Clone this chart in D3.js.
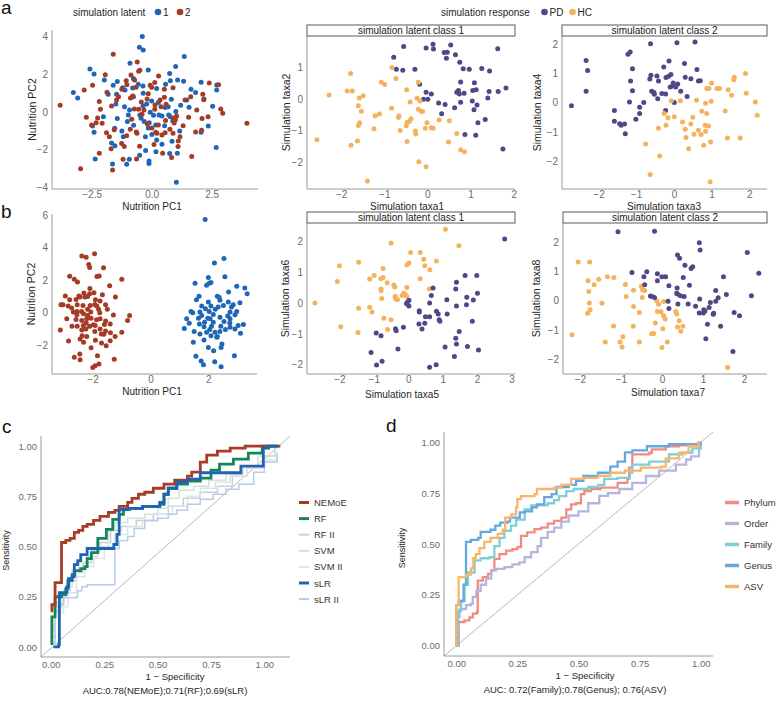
<!DOCTYPE html>
<html><head><meta charset="utf-8">
<script src="https://cdn.jsdelivr.net/npm/d3@7"></script>
<style>body{margin:0;background:#fff;} svg{font-family:"Liberation Sans",Arial,Helvetica,sans-serif;}</style>
</head><body><svg id="fig" width="777" height="701"></svg>
<script>
// ---------------- DATA ----------------
const latentLevels = ["1", "2"];
const responseLevels = ["PD", "HC"];
// panel a (left): Nutrition PC1 / PC2 by simulation latent
const a_latent1 = [[-0.39,4.0],[-0.51,3.43],[-0.35,3.29],[1.36,2.94],[-0.90,2.58],[1.0,2.41],[-2.57,2.28],[-0.14,2.23],[-2.40,2.02],[0.75,2.04],[-0.76,1.77],[1.08,1.70],[1.33,1.63],[-1.97,1.70],[-1.43,1.61],[0.58,1.47],[2.06,1.58],[2.71,1.43],[-0.56,1.47],[0.78,1.65],[-1.60,1.42],[-1.21,1.29],[-1.11,1.17],[-0.79,1.27],[-0.36,1.38],[0.21,1.24],[1.64,1.20],[1.83,1.03],[2.71,1.17],[-3.26,1.03],[-3.08,0.74],[-1.46,0.94],[-1.81,0.94],[0.82,0.67],[0.0,0.58],[-0.36,0.32],[0.28,0.50],[2.18,0.69],[-1.49,0.42],[-1.13,0.28],[-0.92,0.11],[0.57,0.23],[1.21,0.35],[1.56,0.25],[2.54,0.30],[1.01,0.02],[-0.97,-0.16],[-0.06,-0.02],[0.71,-0.16],[0.78,-0.25],[-0.44,-0.34],[-1.43,-0.35],[-0.31,-0.51],[-1.01,-0.51],[-0.75,-0.71],[-2.46,-0.74],[-0.10,-0.57],[0.17,-0.69],[0.54,-0.73],[0.88,-0.48],[0.43,-0.21],[-1.54,-0.87],[-1.24,-1.01],[-0.14,-0.85],[1.17,-1.01],[2.36,-0.74],[2.06,-1.08],[-2.40,-1.08],[-1.18,-1.31],[0.01,-1.20],[-0.26,-1.31],[0.85,-1.56],[-1.67,-1.65],[-1.53,-1.79],[0.43,-1.72],[2.69,-1.89],[0.18,-2.11],[-0.25,-2.05],[-0.50,-2.30],[0.75,-2.21],[1.07,-2.19],[-2.35,-2.50],[-0.93,-2.51],[-0.11,-2.60],[-0.11,-2.74],[-1.04,-2.78],[-1.63,-2.76],[1.03,-3.73],[-0.21,0.42],[0.08,-0.18],[-0.49,-0.16],[0.31,-0.16],[0.69,0.28],[-0.76,0.81],[1.46,0.64],[-2.01,-0.25],[-0.35,0.99],[0.21,-1.49]];
const a_latent2 = [[-1.60,3.06],[-0.60,2.65],[-0.49,2.21],[-0.54,2.16],[-1.93,1.98],[-0.86,1.96],[0.29,1.91],[-0.71,1.70],[-1.06,1.65],[0.13,1.56],[2.40,1.54],[2.79,1.45],[-2.46,1.42],[-1.03,1.45],[-1.24,1.20],[-0.65,1.31],[-0.06,1.42],[0.0,1.31],[0.53,1.20],[0.89,1.29],[2.13,0.94],[-2.81,1.17],[-1.86,1.04],[-1.38,0.81],[-0.79,0.85],[-0.88,0.74],[0.53,0.78],[-0.19,0.69],[1.63,0.81],[-2.18,0.55],[-1.67,0.32],[-0.54,0.14],[-0.43,0.53],[2.17,0.65],[0.14,0.37],[0.39,0.28],[0.60,0.41],[-0.72,0.16],[-0.32,0.11],[0.13,0.14],[2.88,0.16],[-3.81,0.35],[-2.13,0.14],[-2.72,-0.28],[-0.40,-0.12],[0.90,-0.34],[0.99,-0.42],[1.54,-0.28],[-2.25,-0.32],[2.96,-0.07],[2.35,-0.25],[2.10,-0.35],[-2.50,-0.69],[-2.31,-0.57],[-2.06,-0.60],[-0.18,-0.64],[0.01,-0.85],[0.28,-0.69],[0.58,-0.46],[0.94,-0.58],[1.04,-0.21],[3.97,-0.60],[-1.56,-0.94],[-0.89,-0.92],[-0.64,-1.06],[0.17,-1.08],[0.56,-1.10],[0.89,-1.13],[1.31,-0.73],[1.83,-1.06],[2.08,-0.97],[-1.88,-1.10],[-1.76,-1.31],[-1.04,-1.26],[-0.61,-1.13],[0.22,-1.13],[0.43,-1.22],[1.18,-1.31],[1.11,-1.54],[0.10,-1.73],[-1.25,-1.68],[-1.14,-1.84],[-0.50,-1.82],[0.46,-2.19],[-1.69,-1.95],[-2.18,-2.19],[1.10,-1.84],[-1.19,-2.51],[-0.63,-2.50],[0.83,-2.42],[1.67,-2.37],[-2.96,-3.01],[-1.63,-3.08],[-1.46,0.64],[-0.14,0.96],[0.76,-0.92],[-0.83,-0.39],[1.88,0.11],[1.39,0.64],[0.35,0.64]];
// panel a, latent class 1: taxa1 / taxa2
const a_c1_PD = [[-0.55,1.65],[-0.78,1.31],[-0.72,0.93],[-0.57,0.90],[-0.29,0.93],[-0.03,1.60],[0.13,1.72],[0.14,1.57],[0.39,1.46],[0.46,1.47],[0.44,1.28],[0.54,1.70],[0.65,1.39],[0.75,1.15],[0.83,0.95],[0.97,0.93],[1.26,0.96],[1.44,0.88],[1.63,1.58],[-0.18,0.46],[-0.03,0.21],[0.09,0.15],[-0.09,-0.01],[0.01,-0.01],[0.26,-0.13],[0.41,-0.18],[0.33,-0.47],[0.77,0.53],[0.72,0.26],[0.68,0.21],[0.74,0.15],[0.85,0.18],[0.63,-0.28],[0.77,-0.11],[1.09,0.51],[1.05,0.26],[1.13,0.29],[1.43,0.23],[1.40,0.03],[1.64,0.23],[1.82,0.34],[1.04,-0.07],[1.15,-0.19],[1.08,-0.34],[1.17,-0.75],[1.34,-0.65],[0.87,-1.12],[1.12,-1.15],[1.75,-1.58]];
const a_c1_HC = [[-1.78,0.80],[-0.82,0.99],[-0.73,0.64],[-1.07,0.52],[-0.99,0.45],[-0.21,0.52],[-0.48,0.29],[-2.28,0.12],[-1.86,0.25],[-1.74,0.25],[-1.49,0.10],[-1.58,0.03],[-1.60,-0.22],[-1.53,-0.39],[-0.83,-0.30],[-0.66,-0.54],[-0.67,-0.59],[-1.21,-0.53],[-1.11,-0.48],[-0.38,-0.63],[-0.42,-0.71],[-0.47,-0.74],[-0.63,-1.0],[-0.49,-0.85],[-0.24,0.02],[-0.40,-0.10],[-0.17,-0.07],[-0.21,-0.33],[-0.14,-0.39],[-0.11,-0.40],[-0.01,-0.75],[0.09,-0.91],[0.13,-0.93],[-0.05,-0.93],[-0.28,-1.01],[-0.27,-1.11],[-1.57,-0.75],[-1.60,-0.84],[-1.24,-0.94],[-2.56,-1.29],[-1.77,-1.46],[-1.62,-1.33],[-0.47,-1.34],[0.27,-0.67],[0.51,-0.69],[0.49,-1.36],[0.68,-1.09],[0.77,-1.60],[0.86,-1.67],[-0.20,-1.98],[-0.03,-2.14],[-1.39,-2.59]];
// panel a, latent class 2: taxa3 / taxa4
const a_c2_PD = [[-2.72,-0.10],[-2.33,1.46],[-2.29,1.11],[-2.33,0.40],[-1.58,-0.27],[-1.58,-0.64],[-1.44,-0.72],[-1.40,-0.77],[-1.31,-0.73],[-1.29,-1.07],[-1.18,0.03],[-1.10,0.41],[-1.15,0.75],[-1.10,1.17],[-1.22,1.67],[-1.16,1.75],[-1.01,-0.57],[-0.91,-0.37],[-0.91,-0.15],[-0.80,0.01],[-0.62,2.03],[-0.64,0.82],[-0.61,0.95],[-0.59,0.40],[-0.53,0.35],[-0.52,0.29],[-0.45,0.92],[-0.41,0.75],[-0.43,0.14],[-0.32,0.32],[-0.22,0.30],[-0.27,1.23],[-0.21,0.87],[-0.14,0.91],[-0.13,1.44],[-0.08,0.97],[-0.10,0.54],[-0.03,0.58],[-0.02,0.68],[0.01,0.01],[0.05,0.54],[0.10,0.65],[0.08,2.07],[0.18,0.40],[0.28,1.35],[0.30,0.88],[0.35,0.22],[0.45,0.83],[0.56,2.09],[0.61,1.15],[0.65,0.75],[0.70,0.76],[-0.22,-0.27]];
const a_c2_HC = [[-0.75,-1.42],[-0.63,-2.47],[-0.38,-1.83],[-0.41,-0.88],[-0.26,-0.37],[-0.16,-0.52],[-0.21,-0.77],[-0.07,0.07],[0.01,-0.48],[0.17,0.07],[0.23,-0.66],[0.30,-0.91],[0.32,-1.20],[0.45,-0.73],[0.50,-0.50],[0.39,-1.58],[0.53,-1.08],[0.60,0.09],[0.65,-0.95],[0.72,-1.09],[0.74,-0.29],[0.83,-0.77],[0.84,-0.98],[0.87,-0.37],[0.92,-0.80],[0.96,-2.72],[0.99,0.05],[0.87,0.49],[0.93,0.49],[1.0,0.68],[1.14,0.49],[1.21,0.49],[1.36,-0.28],[1.42,-1.21],[1.44,0.45],[1.53,0.26],[1.59,0.79],[1.60,0.88],[1.76,-1.21],[1.90,1.01],[1.92,0.33],[2.16,0.03],[2.21,-0.43],[0.84,-0.02],[0.97,-1.35],[0.79,-1.46]];
// panel b (left)
const b_latent2 = [[-1.93,3.62],[-2.37,3.48],[-2.22,3.40],[-2.13,2.96],[-2.10,2.78],[-1.62,2.76],[-2.79,2.24],[-2.63,2.06],[-2.52,1.89],[-1.85,2.22],[-1.77,2.26],[-0.99,2.06],[-2.09,1.48],[-1.41,1.65],[-2.30,1.21],[-2.10,1.17],[-1.95,1.23],[-2.47,1.03],[-2.94,1.03],[-2.79,0.80],[-2.57,0.82],[-2.43,0.97],[-2.26,0.97],[-2.17,0.99],[-1.21,0.97],[-1.66,1.11],[-3.09,0.49],[-3.02,0.49],[-2.84,0.41],[-2.72,0.29],[-2.53,0.49],[-2.33,0.45],[-2.08,0.45],[-1.92,0.51],[-1.85,0.41],[-1.55,0.49],[-2.54,0.08],[-2.38,0.08],[-2.17,0.21],[-2.06,0.04],[-1.79,0.21],[-2.31,-0.06],[-2.54,-0.12],[-2.17,-0.16],[-1.75,0.0],[-1.49,0.21],[-1.28,-0.14],[-0.72,-0.16],[-2.57,-0.41],[-2.37,-0.47],[-2.22,-0.62],[-2.05,-0.33],[-1.86,-0.43],[-1.74,-0.37],[-1.55,-0.51],[-2.71,-0.82],[-2.53,-0.82],[-2.32,-0.78],[-2.10,-0.82],[-1.97,-0.74],[-1.74,-0.99],[-1.39,-0.68],[-0.79,-0.47],[-3.11,-1.05],[-2.37,-1.05],[-1.92,-1.15],[-1.55,-1.11],[-1.38,-1.23],[-2.83,-1.73],[-2.36,-1.40],[-2.20,-1.46],[-2.43,-1.60],[-1.90,-1.69],[-1.61,-1.32],[-1.22,-1.46],[-0.99,-1.19],[-2.05,-2.14],[-1.69,-1.85],[-2.44,-2.53],[-2.63,-2.72],[-2.43,-2.88],[-1.83,-2.63],[-1.25,-2.84],[-1.78,-3.13],[-1.91,-3.25],[-1.99,-3.35],[-1.53,-2.02],[-2.31,-1.81],[-2.89,-0.37],[-1.74,0.72],[-1.90,0.80],[-1.59,-0.72],[-2.23,-0.99],[-1.39,-1.71],[-1.91,-0.78],[-2.20,-0.37],[-2.66,0.04],[-1.70,-1.30]];
const b_latent1 = [[1.89,5.72],[2.54,3.33],[2.21,3.05],[2.57,2.20],[1.54,1.81],[2.0,2.16],[2.03,1.81],[2.09,1.85],[1.94,1.69],[2.98,1.63],[3.26,1.52],[3.34,1.17],[2.70,1.28],[2.31,1.01],[2.37,0.95],[1.68,1.01],[1.59,0.80],[2.40,0.76],[3.09,0.62],[2.86,0.49],[2.69,0.66],[1.77,0.41],[2.09,0.41],[1.90,0.25],[2.03,0.08],[2.24,0.21],[2.34,0.35],[2.80,0.35],[2.98,0.08],[1.40,0.08],[1.46,0.0],[2.17,-0.10],[1.77,-0.16],[2.67,-0.19],[2.92,-0.12],[2.75,-0.37],[1.66,-0.33],[1.98,-0.33],[2.06,-0.37],[2.40,-0.27],[1.34,-0.64],[1.69,-0.68],[2.17,-0.58],[2.54,-0.53],[2.74,-0.62],[1.85,-0.86],[2.11,-0.82],[2.43,-0.82],[2.59,-1.03],[2.92,-0.99],[1.17,-0.97],[1.51,-1.15],[1.94,-1.19],[2.23,-1.19],[2.40,-1.15],[2.75,-0.88],[3.11,-1.26],[1.71,-1.30],[1.85,-1.67],[1.48,-1.81],[2.09,-1.40],[2.31,-1.46],[2.05,-1.03],[2.47,-1.91],[2.44,-2.12],[2.18,-2.33],[2.0,-2.12],[1.57,-2.67],[1.75,-2.96],[1.83,-3.19],[2.22,-3.0],[2.44,-3.31],[2.90,-2.63],[3.03,-0.78],[3.21,-0.72],[1.25,-0.37],[1.87,-0.58],[1.71,0.04],[2.29,-1.50],[2.75,0.04],[2.52,0.45],[2.0,0.66]];
// panel b, latent class 1: taxa5 / taxa6
const b_c1_PD = [[-0.93,-0.97],[-0.79,-1.06],[-0.92,-2.01],[-0.76,-1.89],[-1.08,-1.60],[-0.37,-0.83],[-0.35,-0.90],[-0.14,-0.78],[-0.30,-1.49],[-0.05,-0.02],[-0.03,0.02],[0.02,-0.09],[0.02,0.09],[0.32,-0.25],[0.32,-0.29],[0.31,-0.68],[0.40,-0.84],[0.48,-0.65],[0.50,-0.44],[0.62,-0.44],[0.62,0.0],[0.67,0.25],[0.72,0.49],[0.82,-0.26],[0.87,-0.35],[0.90,-0.54],[0.92,-0.59],[1.12,0.11],[1.13,-0.35],[1.07,-1.42],[0.81,-2.0],[0.62,-2.08],[1.38,0.46],[1.40,0.68],[1.40,-0.09],[1.38,-1.14],[1.40,-1.33],[1.34,-1.73],[1.48,-0.92],[1.65,0.90],[1.70,0.19],[1.69,-0.05],[1.72,-1.41],[1.89,0.10],[1.86,-0.59],[1.99,0.90],[2.01,0.32],[2.04,-1.52],[2.80,2.08]];
const b_c1_HC = [[-2.71,0.0],[-2.06,0.70],[-2.0,1.21],[-1.96,-0.77],[-1.44,1.33],[-1.44,-0.17],[-1.46,-0.95],[-1.12,0.78],[-1.12,-0.13],[-1.05,-0.29],[-0.99,0.90],[-0.80,0.79],[-0.79,0.46],[-0.79,0.40],[-0.77,0.15],[-0.73,0.83],[-0.71,-0.49],[-0.73,1.12],[-0.61,0.66],[-0.60,-0.86],[-0.50,-0.54],[-0.50,1.95],[-0.42,0.59],[-0.39,0.52],[-0.38,0.22],[-0.37,0.14],[-0.31,0.11],[-0.18,0.25],[-0.13,0.32],[-0.09,0.29],[-0.05,0.22],[-0.04,0.51],[-0.04,1.24],[0.02,1.30],[0.07,1.64],[0.35,1.64],[0.35,0.79],[0.45,1.42],[0.48,1.21],[0.63,1.08],[0.82,1.37],[0.61,0.46],[1.08,2.40],[1.47,1.86]];
// panel b, latent class 2: taxa7 / taxa8
const b_c2_PD = [[-1.07,2.35],[-0.18,2.37],[-0.73,0.96],[-0.44,0.82],[-0.37,0.99],[-0.42,0.54],[-0.28,0.16],[-0.24,0.14],[-0.18,0.11],[-0.11,0.92],[-0.11,0.68],[0.0,0.82],[0.09,0.82],[0.17,0.51],[0.15,-0.02],[0.17,-0.27],[0.37,0.43],[0.36,0.25],[0.38,0.23],[0.39,-0.11],[0.45,0.17],[0.54,0.14],[0.64,-0.11],[0.67,0.53],[0.38,1.56],[0.43,1.45],[0.56,1.21],[0.71,1.10],[0.75,1.16],[0.52,0.79],[0.82,-0.19],[0.92,0.06],[0.91,-0.42],[1.01,-0.42],[1.02,-0.31],[1.05,-0.35],[1.15,-0.23],[1.18,-0.06],[1.11,-0.80],[1.07,-1.30],[1.25,-0.46],[1.26,-0.43],[1.31,-0.02],[1.31,0.35],[1.37,0.10],[1.43,-0.87],[1.50,0.82],[1.57,0.21],[0.91,1.98],[0.93,1.73],[1.76,-0.40],[1.89,-0.51],[2.08,1.64],[2.18,0.17],[2.36,0.94],[1.73,-1.73]];
const b_c2_HC = [[-2.19,-1.16],[-2.04,1.32],[-1.76,1.32],[-1.80,0.68],[-1.78,0.31],[-1.77,-0.08],[-1.75,-0.31],[-1.81,-0.43],[-1.65,0.54],[-1.54,0.73],[-1.46,-0.09],[-1.33,0.82],[-1.38,-1.41],[-1.18,-0.86],[-1.17,0.79],[-1.02,-1.41],[-0.97,-1.58],[-0.95,-1.23],[-0.89,0.55],[-0.87,0.14],[-0.69,0.36],[-0.69,-0.20],[-0.70,-0.87],[-0.55,-0.40],[-0.55,-1.41],[-0.50,0.49],[-0.48,0.11],[-0.47,0.37],[-0.42,0.35],[-0.25,-1.13],[-0.20,-1.12],[-0.16,-0.76],[-0.13,0.0],[-0.11,-0.37],[-0.08,-0.12],[-0.02,-0.38],[0.02,-0.96],[0.04,-0.51],[0.04,-0.03],[0.08,-0.62],[0.13,-1.41],[0.0,-1.60],[0.34,-0.37],[0.36,-0.45],[0.38,-0.90],[0.42,-0.68],[0.46,-1.04],[0.51,-0.87],[1.60,-2.28]];
// panel c: ROC curves [1 - specificity, sensitivity]
const modelsC = ["NEMoE", "RF", "RF II", "SVM", "SVM II", "sLR", "sLR II"];
const roc_NEMoE = [[0,0.18],[0.005,0.18],[0.005,0.21],[0.02,0.21],[0.02,0.32],[0.05,0.32],[0.05,0.52],[0.07,0.53],[0.09,0.54],[0.11,0.57],[0.13,0.58],[0.15,0.60],[0.17,0.61],[0.2,0.63],[0.23,0.65],[0.27,0.67],[0.3,0.68],[0.32,0.70],[0.36,0.72],[0.38,0.74],[0.41,0.76],[0.44,0.77],[0.48,0.79],[0.53,0.81],[0.58,0.83],[0.64,0.85],[0.66,0.87],[0.70,0.92],[0.73,0.955],[0.78,0.975],[0.84,0.99],[0.91,1.0],[1.075,1.0]];
const roc_RF = [[0.005,0.01],[0.005,0.15],[0.02,0.15],[0.02,0.25],[0.05,0.26],[0.07,0.29],[0.08,0.33],[0.1,0.36],[0.11,0.38],[0.14,0.39],[0.16,0.40],[0.17,0.44],[0.19,0.47],[0.22,0.54],[0.24,0.54],[0.26,0.585],[0.29,0.635],[0.32,0.66],[0.34,0.685],[0.37,0.69],[0.43,0.70],[0.51,0.71],[0.53,0.76],[0.55,0.79],[0.59,0.81],[0.64,0.825],[0.7,0.84],[0.75,0.88],[0.79,0.91],[0.855,0.935],[0.925,0.965],[0.99,1.0],[1.06,1.0]];
const roc_RFII = [[0.005,0.05],[0.02,0.2],[0.05,0.22],[0.06,0.28],[0.09,0.33],[0.12,0.37],[0.15,0.42],[0.19,0.48],[0.23,0.52],[0.28,0.58],[0.33,0.6],[0.4,0.63],[0.48,0.66],[0.55,0.7],[0.62,0.74],[0.7,0.77],[0.78,0.8],[0.85,0.85],[0.92,0.9],[1.0,0.95],[1.05,0.98]];
const roc_SVM = [[0.005,0.1],[0.02,0.22],[0.05,0.25],[0.08,0.3],[0.1,0.38],[0.13,0.42],[0.17,0.45],[0.22,0.5],[0.27,0.58],[0.3,0.62],[0.36,0.64],[0.44,0.66],[0.5,0.69],[0.55,0.74],[0.6,0.78],[0.67,0.8],[0.74,0.83],[0.82,0.86],[0.9,0.9],[0.97,0.95],[1.05,0.99]];
const roc_SVMII = [[0.005,0.08],[0.02,0.17],[0.06,0.2],[0.08,0.27],[0.12,0.35],[0.16,0.4],[0.2,0.44],[0.25,0.5],[0.3,0.56],[0.36,0.6],[0.43,0.63],[0.5,0.66],[0.57,0.7],[0.64,0.75],[0.7,0.79],[0.77,0.82],[0.84,0.85],[0.92,0.89],[1.0,0.93],[1.06,0.97]];
const roc_sLR = [[0.012,0],[0.036,0.01],[0.04,0.27],[0.06,0.27],[0.075,0.30],[0.083,0.34],[0.1,0.35],[0.11,0.41],[0.126,0.43],[0.14,0.46],[0.17,0.49],[0.29,0.49],[0.295,0.51],[0.31,0.56],[0.32,0.685],[0.36,0.69],[0.43,0.70],[0.51,0.72],[0.53,0.76],[0.55,0.79],[0.59,0.82],[0.64,0.835],[0.70,0.867],[0.89,0.867],[0.89,0.90],[0.995,0.90],[0.995,0.99],[1.02,1.0],[1.066,1.0]];
const roc_sLRII = [[0.012,0.02],[0.02,0.18],[0.045,0.21],[0.06,0.245],[0.12,0.25],[0.125,0.28],[0.145,0.30],[0.17,0.31],[0.3,0.32],[0.3,0.49],[0.32,0.53],[0.36,0.55],[0.39,0.59],[0.44,0.63],[0.5,0.64],[0.55,0.66],[0.59,0.68],[0.64,0.71],[0.7,0.735],[0.76,0.76],[0.82,0.785],[0.88,0.81],[0.95,0.87],[1.0,0.92],[1.06,0.96]];
const aucTextC = "AUC:0.78(NEMoE);0.71(RF);0.69(sLR)";
// panel d
const levelsD = ["Phylum", "Order", "Family", "Genus", "ASV"];
const roc_Phylum = [[0,0],[0.01,0.117],[0.034,0.125],[0.054,0.14],[0.068,0.158],[0.085,0.166],[0.088,0.32],[0.109,0.337],[0.13,0.353],[0.143,0.37],[0.156,0.427],[0.177,0.45],[0.204,0.467],[0.23,0.475],[0.25,0.485],[0.265,0.54],[0.29,0.557],[0.32,0.573],[0.347,0.58],[0.374,0.6],[0.4,0.614],[0.43,0.63],[0.45,0.67],[0.47,0.695],[0.49,0.70],[0.51,0.745],[0.524,0.76],[0.55,0.77],[0.59,0.777],[0.66,0.8],[0.7,0.82],[0.707,0.875],[0.72,0.94],[0.79,0.948],[0.8,0.965],[0.857,0.98],[0.91,0.985],[1.0,1.0]];
const roc_Order = [[0.01,0.14],[0.014,0.18],[0.04,0.2],[0.06,0.207],[0.068,0.24],[0.082,0.27],[0.1,0.3],[0.122,0.33],[0.143,0.37],[0.163,0.378],[0.197,0.386],[0.23,0.4],[0.258,0.41],[0.28,0.435],[0.306,0.46],[0.333,0.49],[0.347,0.53],[0.374,0.56],[0.4,0.58],[0.43,0.61],[0.46,0.64],[0.5,0.66],[0.54,0.7],[0.585,0.736],[0.62,0.75],[0.667,0.77],[0.72,0.8],[0.776,0.834],[0.83,0.86],[0.898,0.89],[0.94,0.915],[0.96,0.93],[0.993,0.97],[1.0,0.99]];
const roc_Family = [[0,0],[0.007,0.17],[0.02,0.22],[0.034,0.30],[0.048,0.36],[0.075,0.42],[0.1,0.43],[0.136,0.435],[0.156,0.49],[0.177,0.53],[0.197,0.565],[0.224,0.59],[0.245,0.62],[0.28,0.67],[0.306,0.69],[0.347,0.69],[0.374,0.70],[0.4,0.715],[0.42,0.735],[0.45,0.76],[0.48,0.77],[0.54,0.78],[0.58,0.79],[0.605,0.82],[0.66,0.825],[0.71,0.85],[0.72,0.89],[0.79,0.905],[0.87,0.94],[0.925,0.948],[0.966,0.97],[1.0,1.0]];
const roc_Genus = [[0,0],[0,0.2],[0.01,0.2],[0.01,0.22],[0.03,0.22],[0.03,0.3],[0.04,0.31],[0.04,0.51],[0.06,0.52],[0.09,0.53],[0.1,0.56],[0.14,0.57],[0.16,0.59],[0.18,0.605],[0.21,0.61],[0.22,0.63],[0.26,0.655],[0.28,0.66],[0.31,0.68],[0.33,0.695],[0.36,0.73],[0.39,0.745],[0.41,0.78],[0.46,0.79],[0.49,0.81],[0.52,0.835],[0.58,0.85],[0.61,0.85],[0.63,0.88],[0.66,0.905],[0.69,0.95],[0.72,0.96],[0.78,0.98],[0.87,0.99],[1.0,1.0]];
const roc_ASV = [[0,0],[0,0.2],[0.01,0.2],[0.01,0.337],[0.04,0.35],[0.06,0.38],[0.07,0.43],[0.08,0.45],[0.095,0.48],[0.115,0.51],[0.14,0.53],[0.17,0.55],[0.19,0.57],[0.2,0.63],[0.225,0.645],[0.245,0.68],[0.25,0.72],[0.265,0.735],[0.32,0.745],[0.33,0.77],[0.4,0.777],[0.43,0.79],[0.47,0.82],[0.52,0.825],[0.58,0.835],[0.63,0.85],[0.69,0.86],[0.755,0.875],[0.84,0.88],[0.857,0.92],[0.91,0.948],[0.95,0.98],[0.99,1.0],[1.0,1.0]];
const aucTextD = "AUC: 0.72(Family);0.78(Genus); 0.76(ASV)";
const rocTicks = [0, 0.25, 0.5, 0.75, 1];

// ---------------- DRAWING ----------------
const svg = d3.select("#fig");
const FONT_TICK = 10, TICK_COL = "#6b6b6b", TITLE_COL = "#262626", AXIS_COL = "#9a9a9a";
const COL_L1 = "#1f67b6", COL_L2 = "#a53b26", COL_PD = "#4e4886", COL_HC = "#f4b25d";

function axes(g, x, y, box, xt, yt, fmt, pad) {
  g.append("line").attr("x1", box.l).attr("x2", box.r).attr("y1", box.b).attr("y2", box.b)
    .attr("stroke", AXIS_COL).attr("stroke-width", 1);
  g.append("line").attr("x1", box.l).attr("x2", box.l).attr("y1", box.t).attr("y2", box.b)
    .attr("stroke", AXIS_COL).attr("stroke-width", 1);
  const ax = g.append("g").attr("transform", `translate(0,${box.b})`)
    .call(d3.axisBottom(x).tickValues(xt).tickSize(0).tickPadding(pad.x).tickFormat(fmt.x));
  const ay = g.append("g").attr("transform", `translate(${box.l},0)`)
    .call(d3.axisLeft(y).tickValues(yt).tickSize(0).tickPadding(pad.y).tickFormat(fmt.y));
  [ax, ay].forEach(a => {
    a.select(".domain").remove();
    a.selectAll("text").attr("fill", TICK_COL).style("font-size", (pad.fs || FONT_TICK) + "px")
      .style("font-family", "Liberation Sans, Arial, sans-serif");
  });
}

function scatter(cfg) {
  const g = svg.append("g");
  const x = d3.scaleLinear().domain(cfg.xd).range([cfg.l, cfg.r]);
  const y = d3.scaleLinear().domain(cfg.yd).range([cfg.b, cfg.t]);
  axes(g, x, y, cfg, cfg.xt, cfg.yt, {x: cfg.xf || d3.format("d"), y: d3.format("d")}, {x: 2, y: 4});
  cfg.series.forEach(s => {
    g.append("g").selectAll("circle").data(s.data).join("circle")
      .attr("cx", d => x(d[0])).attr("cy", d => y(d[1])).attr("r", 2.5).attr("fill", s.color);
  });
  if (cfg.strip) {
    g.append("rect").attr("x", cfg.l).attr("y", cfg.t - 11).attr("width", cfg.r - cfg.l).attr("height", 11)
      .attr("fill", "#fff").attr("stroke", "#5a5a5a").attr("stroke-width", 1);
    g.append("text").attr("x", (cfg.l + cfg.r) / 2).attr("y", cfg.t - 2.2).attr("text-anchor", "middle")
      .style("font-size", "10px").attr("fill", "#1a1a1a").text(cfg.strip);
  }
  g.append("text").attr("x", cfg.xtx).attr("y", cfg.xty).attr("text-anchor", "middle")
    .style("font-size", "10px").attr("fill", TITLE_COL).text(cfg.xlab);
  g.append("text").attr("transform", `translate(${cfg.ytx},${(cfg.t + cfg.b) / 2}) rotate(-90)`)
    .attr("text-anchor", "middle").style("font-size", "10.5px").attr("fill", TITLE_COL).text(cfg.ylab);
}

// row a
scatter({l: 52, r: 258, t: 30, b: 189, xd: [-4.15, 4.43], yd: [-4.09, 4.35], xt: [-2.5, 0, 2.5], yt: [-4, -2, 0, 2, 4],
  xf: d3.format(".1f"), series: [{data: a_latent1, color: COL_L1}, {data: a_latent2, color: COL_L2}],
  xlab: "Nutrition PC1", ylab: "Nutrition PC2", xtx: 152, xty: 209.5, ytx: 36});
scatter({l: 307, r: 515, t: 36, b: 189, xd: [-2.79, 2.03], yd: [-2.84, 1.98], xt: [-2, -1, 0, 1, 2], yt: [-2, -1, 0, 1],
  series: [{data: a_c1_PD, color: COL_PD}, {data: a_c1_HC, color: COL_HC}], strip: "simulation latent class 1",
  xlab: "Simulation taxa1", ylab: "Simulation taxa2", xtx: 407, xty: 209.5, ytx: 290});
scatter({l: 562, r: 767, t: 36, b: 189, xd: [-2.97, 2.47], yd: [-2.97, 2.30], xt: [-2, -1, 0, 1, 2], yt: [-2, -1, 0, 1, 2],
  series: [{data: a_c2_PD, color: COL_PD}, {data: a_c2_HC, color: COL_HC}], strip: "simulation latent class 2",
  xlab: "Simulation taxa3", ylab: "Simulation taxa4", xtx: 664, xty: 209.5, ytx: 541});
// row b
scatter({l: 52, r: 257, t: 214, b: 374, xd: [-3.4, 3.68], yd: [-3.75, 6.05], xt: [-2, 0, 2], yt: [-2, 0, 2, 4, 6],
  series: [{data: b_latent2, color: COL_L2}, {data: b_latent1, color: COL_L1}],
  xlab: "Nutrition PC1", ylab: "Nutrition PC2", xtx: 152, xty: 395, ytx: 35});
scatter({l: 307, r: 515, t: 223, b: 374, xd: [-2.94, 3.1], yd: [-2.3, 2.6], xt: [-2, -1, 0, 1, 2, 3], yt: [-2, -1, 0, 1, 2],
  series: [{data: b_c1_HC, color: COL_HC}, {data: b_c1_PD, color: COL_PD}], strip: "simulation latent class 1",
  xlab: "Simulation taxa5", ylab: "Simulation taxa6", xtx: 402, xty: 398, ytx: 289});
scatter({l: 563, r: 767, t: 223, b: 374, xd: [-2.41, 2.56], yd: [-2.5, 2.65], xt: [-2, -1, 0, 1, 2], yt: [-2, -1, 0, 1, 2],
  series: [{data: b_c2_HC, color: COL_HC}, {data: b_c2_PD, color: COL_PD}], strip: "simulation latent class 2",
  xlab: "Simulation taxa7", ylab: "Simulation taxa8", xtx: 668, xty: 396, ytx: 540});

// top legends
function pointLegend(x0, title, items) {
  const g = svg.append("g");
  g.append("text").attr("x", x0).attr("y", 15.5).style("font-size", "10px").attr("fill", "#262626").text(title);
  items.forEach(it => {
    g.append("circle").attr("cx", it.cx).attr("cy", 12).attr("r", 3.3).attr("fill", it.color);
    g.append("text").attr("x", it.cx + 5).attr("y", 15.5).style("font-size", "10px").attr("fill", "#262626").text(it.label);
  });
}
pointLegend(73, "simulation latent", [{cx: 158, color: COL_L1, label: latentLevels[0]}, {cx: 180, color: COL_L2, label: latentLevels[1]}]);
pointLegend(441, "simulation response", [{cx: 544.5, color: COL_PD, label: responseLevels[0]}, {cx: 572.5, color: COL_HC, label: responseLevels[1]}]);

// panel letters
[["a", 1, 14], ["b", 1, 218], ["c", 2, 433], ["d", 386, 432]].forEach(([t, x, y]) =>
  svg.append("text").attr("x", x).attr("y", y).style("font-size", "19px").attr("fill", "#111").text(t));

// ROC panels
function rocPanel(cfg) {
  const g = svg.append("g");
  const x = d3.scaleLinear().domain(cfg.xd).range([cfg.l, cfg.r]);
  const y = d3.scaleLinear().domain(cfg.yd).range([cfg.b, cfg.t]);
  axes(g, x, y, cfg, rocTicks, rocTicks, {x: d3.format(".2f"), y: d3.format(".2f")}, {x: 4, y: 4, fs: 9.5});
  g.append("line").attr("x1", x(cfg.xd[0])).attr("y1", y(cfg.yd[0])).attr("x2", x(cfg.xd[1])).attr("y2", y(cfg.yd[1]))
    .attr("stroke", "#9a9a9a").attr("stroke-width", 0.7);
  const line = d3.line().x(d => x(d[0])).y(d => y(d[1])).curve(d3.curveStepAfter);
  cfg.curves.forEach(c => {
    g.append("path").attr("d", line(c.data)).attr("fill", "none").attr("stroke", c.color)
      .attr("stroke-width", c.w).attr("stroke-linejoin", "miter");
  });
  g.append("text").attr("x", cfg.xtx).attr("y", cfg.b + 23).attr("text-anchor", "middle")
    .style("font-size", "9.5px").attr("fill", TITLE_COL).text("1 \u2212 Specificity");
  g.append("text").attr("x", cfg.xtx - 10).attr("y", cfg.b + 37).attr("text-anchor", "middle")
    .style("font-size", "9.5px").attr("fill", TITLE_COL).text(cfg.auc);
  g.append("text").attr("transform", `translate(${cfg.ytx},${(cfg.t + cfg.b) / 2 + 4}) rotate(-90)`)
    .attr("text-anchor", "middle").style("font-size", "9px").attr("fill", TITLE_COL).text("Sensitivity");
  // legend
  cfg.legend.forEach((c, i) => {
    const yy = cfg.lg.y0 + i * cfg.lg.dy;
    g.append("line").attr("x1", cfg.lg.x0).attr("x2", cfg.lg.x0 + cfg.lg.w).attr("y1", yy).attr("y2", yy)
      .attr("stroke", c.color).attr("stroke-width", c.lw);
    g.append("text").attr("x", cfg.lg.x0 + cfg.lg.w + 5).attr("y", yy + 3.5).style("font-size", "9.5px")
      .attr("fill", "#333").text(c.name);
  });
}

const colC = {"NEMoE": "#a83d26", "RF": "#13875a", "RF II": "#c9d0da", "SVM": "#d2e3d6", "SVM II": "#dfe3e8", "sLR": "#1f63b4", "sLR II": "#b6cde9"};
const dataC = {"NEMoE": roc_NEMoE, "RF": roc_RF, "RF II": roc_RFII, "SVM": roc_SVM, "SVM II": roc_SVMII, "sLR": roc_sLR, "sLR II": roc_sLRII};
const thickC = {"NEMoE": 2.8, "RF": 2.8, "sLR": 2.8};
const drawOrderC = ["RF II", "SVM", "SVM II", "sLR II", "RF", "NEMoE", "sLR"];
rocPanel({l: 41, r: 290, t: 436, b: 657, xd: [-0.046, 1.12], yd: [-0.05, 1.05],
  curves: drawOrderC.map(k => ({data: dataC[k], color: colC[k], w: thickC[k] || 1.5})),
  legend: modelsC.map(k => ({name: k, color: colC[k], lw: thickC[k] ? 3 : 2})),
  lg: {x0: 299, w: 10, y0: 502.5, dy: 16.1}, xtx: 175, ytx: 9, auc: aucTextC});

const colD = {"Phylum": "#f28a81", "Order": "#b5b5dd", "Family": "#7fcfd5", "Genus": "#63a9e1", "ASV": "#f9b56b"};
const dataD = {"Phylum": roc_Phylum, "Order": roc_Order, "Family": roc_Family, "Genus": roc_Genus, "ASV": roc_ASV};
rocPanel({l: 444, r: 713, t: 432, b: 656, xd: [-0.05, 1.05], yd: [-0.05, 1.05],
  curves: levelsD.map(k => ({data: dataD[k], color: colD[k], w: 2.3})),
  legend: levelsD.map(k => ({name: k, color: colD[k], lw: 3.5})),
  lg: {x0: 725, w: 14, y0: 502.5, dy: 21}, xtx: 585, ytx: 405, auc: aucTextD});
</script></body></html>
